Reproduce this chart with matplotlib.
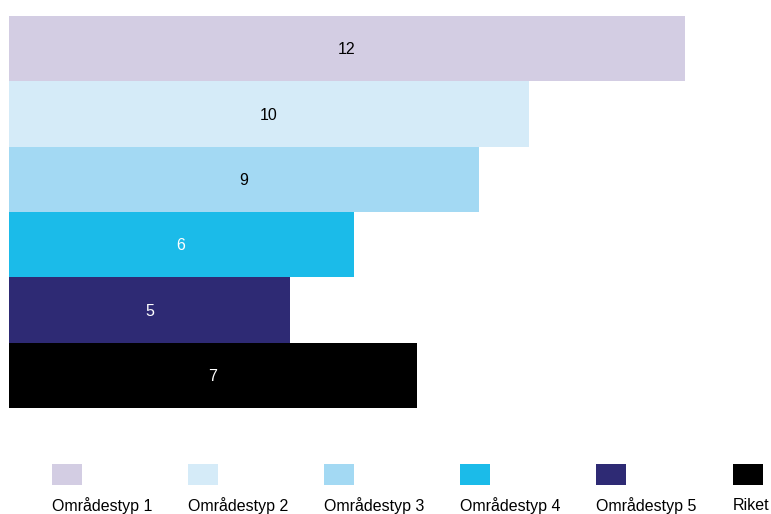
import matplotlib.pyplot as plt
from matplotlib.patches import Rectangle

plt.rcParams['font.family'] = ['Liberation Sans', 'DejaVu Sans']

# Data
categories = ['Områdestyp 1', 'Områdestyp 2', 'Områdestyp 3',
              'Områdestyp 4', 'Områdestyp 5', 'Riket']
values = [12.0, 9.23, 8.35, 6.12, 5.0, 7.24]
value_labels = ['12', '10', '9', '6', '5', '7']
colors = ['#d3cde3', '#d5ebf8', '#a3d9f3', '#1bbbe9', '#2e2a74', '#000000']
text_colors = ['#000000', '#000000', '#000000', '#ffffff', '#ffffff', '#ffffff']

W, H = 771, 514
fig = plt.figure(figsize=(W / 100, H / 100), dpi=100)

# axes: bars span x from 8.5px, y from 16px to 408px
ax = fig.add_axes([8.5 / W, (H - 408) / H, (W - 8.5) / W, (408 - 16) / H])
ypos = list(range(len(categories)))
ax.barh(ypos, values, height=1.0, color=colors, linewidth=0)
ax.set_xlim(0, (W - 8.5) / 56.375)
ax.set_ylim(len(categories) - 0.5, -0.5)
ax.axis('off')

for y, v, lab, tc in zip(ypos, values, value_labels, text_colors):
    ax.text(v / 2, y + 0.02, lab, ha='center', va='center', color=tc, fontsize=11.5)

# legend: swatch row with labels underneath
x0, step = 51.5, 136.2
for i, (cat, col) in enumerate(zip(categories, colors)):
    x = x0 + i * step
    fig.add_artist(Rectangle((x / W, (H - 485) / H), 30 / W, 21 / H,
                             transform=fig.transFigure, color=col, lw=0))
    fig.text(x / W, (H - 506) / H, cat, ha='left', va='center', fontsize=11.5)

fig.savefig('out.png', dpi=100)
